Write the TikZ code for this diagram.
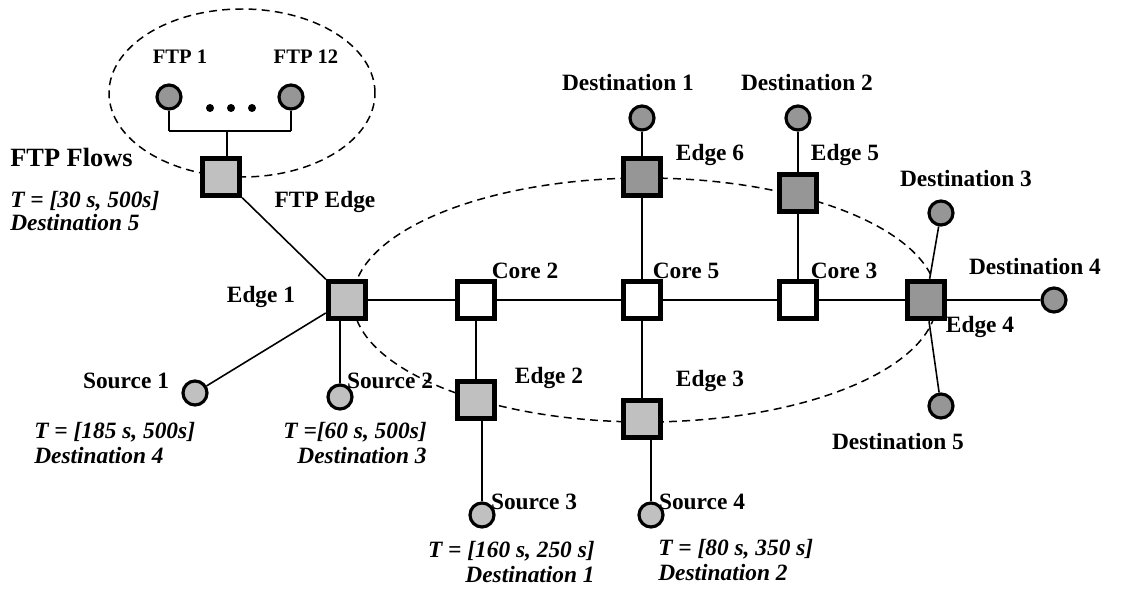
\documentclass[tikz,border=0pt]{standalone}
\usepackage{fontspec}
\setmainfont{Liberation Serif}
\usepackage{tkz-euclide}
\definecolor{lightgr}{RGB}{192,192,192}
\definecolor{darkgr}{RGB}{150,150,150}
\tikzset{
  sq/.style={draw, line width=3.1pt, minimum size=0.74cm, inner sep=0pt},
  edgebox/.style={sq, fill=lightgr},
  edgedark/.style={sq, fill=darkgr},
  corebox/.style={sq, fill=white},
  host/.style={circle, draw, line width=1.8pt, minimum size=0.48cm, inner sep=0pt},
  src/.style={host, fill=lightgr},
  dst/.style={host, fill=darkgr},
  lbl/.style={font=\fontsize{13.3}{15}\selectfont\bfseries, inner sep=0pt},
  ftplbl/.style={font=\fontsize{11.7}{14}\selectfont\bfseries, inner sep=0pt},
  timelbl/.style={font=\fontsize{13.3}{14.7}\selectfont\bfseries\itshape, inner sep=0pt},
  link/.style={line width=0.9pt},
  zone/.style={line width=0.85pt, dash pattern=on 4.5pt off 3pt}
}

\begin{document}
\begin{tikzpicture}
                    \useasboundingbox (0,0) rectangle (22.68,-11.78);
                    \tkzDefPoints{4.42/-3.54/F,3.38/-1.94/F1,5.82/-1.94/F12,4.54/-2.62/B,
                      6.94/-6/E1,9.52/-8/E2,12.84/-8.38/E3,18.52/-6/E4,15.96/-3.86/E5,12.84/-3.54/E6,
                      9.52/-6/C2,12.84/-6/C5,15.96/-6/C3,
                      3.9/-7.86/S1,6.8/-7.94/S2,9.64/-10.3/S3,13.02/-10.3/S4,
                      12.84/-2.36/D1,15.96/-2.36/D2,18.82/-4.26/D3,21.08/-6/D4,18.82/-8.12/D5}
                    % zones
                    \draw[zone] (4.84,-1.86) ellipse (2.66 and 1.68);
                    \draw[zone] (12.9,-6) ellipse (5.84 and 2.44);
                    % routers
                    \node[edgebox] (ftpedge) at (F) {};
                    \node[edgebox] (edge1) at (E1) {};
                    \node[edgebox] (edge2) at (E2) {};
                    \node[edgebox] (edge3) at (E3) {};
                    \node[edgedark] (edge4) at (E4) {};
                    \node[edgedark] (edge5) at (E5) {};
                    \node[edgedark] (edge6) at (E6) {};
                    \node[corebox] (core2) at (C2) {};
                    \node[corebox] (core5) at (C5) {};
                    \node[corebox] (core3) at (C3) {};
                    % hosts
                    \node[dst] (ftp1) at (F1) {};
                    \node[dst] (ftp12) at (F12) {};
                    \node[src] (src1) at (S1) {};
                    \node[src] (src2) at (S2) {};
                    \node[src] (src3) at (S3) {};
                    \node[src] (src4) at (S4) {};
                    \node[dst] (dst1) at (D1) {};
                    \node[dst] (dst2) at (D2) {};
                    \node[dst] (dst3) at (D3) {};
                    \node[dst] (dst4) at (D4) {};
                    \node[dst] (dst5) at (D5) {};
                    \coordinate (bar) at (B);
                    \foreach \x in {4.2,4.62,5.04} \fill (\x,-2.16) circle (0.08);
                    % links
                    \draw[link] (ftp1) -- (ftp1 |- bar) (ftp12) -- (ftp12 |- bar);
                    \draw[line width=1.4pt] (ftp1 |- bar) -- (ftp12 |- bar);
                    \draw[link] (bar) -- (bar |- ftpedge.north);
                    \draw[link] (ftpedge) -- (edge1) (edge1) -- (core2) (core2) -- (core5)
                      (core5) -- (core3) (core3) -- (edge4) (edge4) -- (dst4);
                    \draw[link] (edge1) -- (src1) (src2) -- (src2 |- edge1.south);
                    \draw[link] (core2) -- (edge2) (src3) -- (src3 |- edge2.south);
                    \draw[link] (core5) -- (edge3) (src4) -- (src4 |- edge3.south);
                    \draw[link] (core5) -- (edge6) (edge6) -- (dst1);
                    \draw[link] (core3) -- (edge5) (edge5) -- (dst2);
                    \draw[link] (edge4) -- (dst3) (edge4) -- (dst5);
                    % labels
                    \node[ftplbl] (lftp1) at (3.6,-1.14) {FTP 1};
                    \node[ftplbl] (lftp12) at (6.12,-1.14) {FTP 12};
                    \node[lbl, font=\fontsize{15}{17}\selectfont\bfseries, anchor=west] (lflows) at (0.2,-3.14) {FTP Flows};
                    \node[timelbl, align=left, anchor=west] (tftp) at (0.2,-4.22) {T = [30 s, 500s]\\[-1.5pt]Destination 5};
                    \node[lbl] (lftpedge) at (6.5,-4.04) {FTP Edge};
                    \node[lbl] (ledge1) at (5.22,-5.94) {Edge 1};
                    \node[lbl] (ledge2) at (10.98,-7.56) {Edge 2};
                    \node[lbl] (ledge3) at (14.2,-7.62) {Edge 3};
                    \node[lbl] (ledge4) at (19.6,-6.54) {Edge 4};
                    \node[lbl] (ledge5) at (16.9,-3.1) {Edge 5};
                    \node[lbl] (ledge6) at (14.2,-3.1) {Edge 6};
                    \node[lbl] (lcore2) at (10.5,-5.42) {Core 2};
                    \node[lbl] (lcore5) at (13.72,-5.42) {Core 5};
                    \node[lbl] (lcore3) at (16.88,-5.42) {Core 3};
                    \node[lbl] (ldst1) at (12.56,-1.66) {Destination 1};
                    \node[lbl] (ldst2) at (16.14,-1.66) {Destination 2};
                    \node[lbl] (ldst3) at (19.32,-3.58) {Destination 3};
                    \node[lbl] (ldst4) at (20.7,-5.34) {Destination 4};
                    \node[lbl] (ldst5) at (17.96,-8.84) {Destination 5};
                    \node[lbl] (lsrc1) at (2.52,-7.62) {Source 1};
                    \node[lbl] (lsrc2) at (7.8,-7.62) {Source 2};
                    \node[lbl] (lsrc3) at (10.68,-10.04) {Source 3};
                    \node[lbl] (lsrc4) at (14.04,-10.04) {Source 4};
                    \node[timelbl, align=left, anchor=west] (tsrc1) at (0.68,-8.86) {T = [185 s, 500s]\\Destination 4};
                    \node[timelbl, align=right, anchor=east] (tsrc2) at (8.54,-8.86) {T =[60 s, 500s]\\Destination 3};
                    \node[timelbl, align=right, anchor=east] (tsrc3) at (11.9,-11.24) {T = [160 s, 250 s]\\Destination 1};
                    \node[timelbl, align=left, anchor=west] (tsrc4) at (13.16,-11.2) {T = [80 s, 350 s]\\Destination 2};
                \end{tikzpicture}
\end{document}
